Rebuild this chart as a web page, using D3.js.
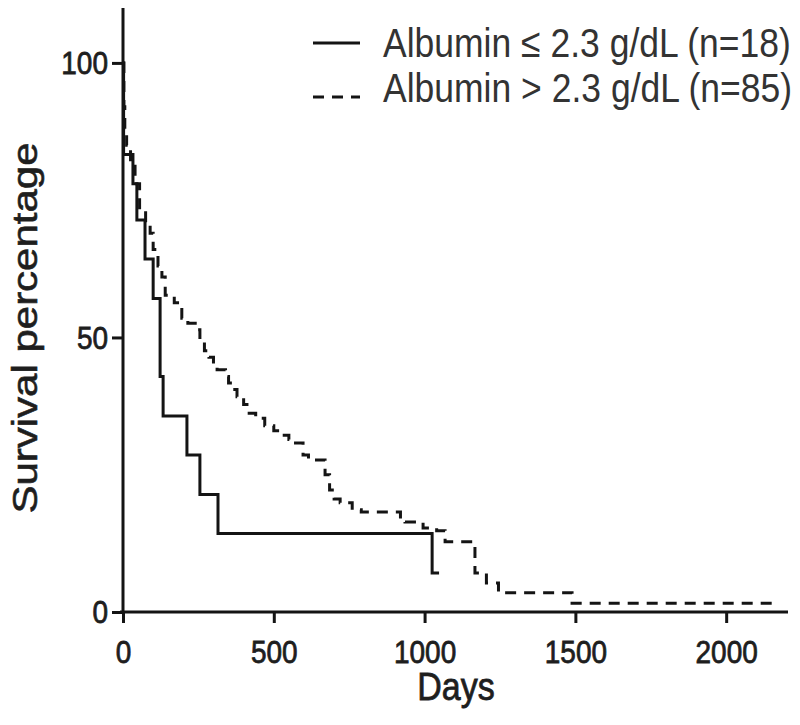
<!DOCTYPE html>
<html>
<head>
<meta charset="utf-8">
<script src="https://cdn.jsdelivr.net/npm/d3@7"></script>
<style>
  body { margin: 0; background: #fff; }
  svg text { font-family: "Liberation Sans", Arial, sans-serif; }
</style>
</head>
<body>
<div id="chart"></div>
<script>
// Kaplan-Meier style survival steps
let lowDays = [0, 2, 33, 46, 73, 100, 123, 133, 212, 255, 315, 1025, 1048];
let lowSurv = [100, 83.3, 78, 71.4, 64.3, 57.1, 42.9, 35.7, 28.6, 21.4, 14.3, 7.1, 7.1];

let highDays = [0, 3, 6, 12, 25, 40, 55, 75, 90, 100, 116, 129, 140, 170, 195, 215, 245, 255, 270, 285, 300, 312,
    340, 350, 365, 378, 400, 411, 440, 470, 500, 527, 550, 564, 597, 615, 670, 685, 700, 720, 760, 790, 920, 935,
    995, 1040, 1068, 1167, 1205, 1245, 1489, 2166];
let highSurv = [100, 92, 88, 85, 82, 78, 73, 71, 69, 66, 63, 61, 57.7, 56.3, 53.5, 52.6, 51.4, 49.5, 47.6, 46.4, 45.2, 44.1,
    42.9, 41.7, 40.5, 39.2, 37.8, 36.2, 35.3, 33.9, 33, 32.2, 31.4, 30.8, 28.6, 27.7, 25, 22.2, 20.6, 19.9, 18.6, 18.2, 16.9, 16.4,
    15.3, 14.8, 12.8, 7.1, 5.3, 3.5, 1.6, 1.6];

let xTicks = [0, 500, 1000, 1500, 2000];
let yTicks = [0, 50, 100];
let legendLabels = ["Albumin \u2264 2.3 g/dL (n=18)", "Albumin > 2.3 g/dL (n=85)"];

let width = 800, height = 725;
let ink = "#141414";
let stretch = 1.15; // the source picture is a bit taller than wide

let svg = d3.select("#chart").append("svg")
    .attr("width", width)
    .attr("height", height);

let x = d3.scaleLinear().domain([0, 2205]).range([123, 788]);
let y = d3.scaleLinear().domain([0, 110]).range([612, 8]);

// axes
let xAxis = d3.axisBottom(x).tickValues(xTicks).tickFormat(d3.format("d")).tickSize(11).tickSizeOuter(0);
let yAxis = d3.axisLeft(y).tickValues(yTicks).tickFormat(d3.format("d")).tickSize(11).tickSizeOuter(0);

let gx = svg.append("g")
    .attr("transform", "translate(0," + y(0) + ")")
    .call(xAxis);
let gy = svg.append("g")
    .attr("transform", "translate(" + x(0) + ",0)")
    .call(yAxis);

[gx, gy].forEach(function(g) {
    g.select(".domain").attr("stroke", ink).attr("stroke-width", 3);
    g.selectAll(".tick line").attr("stroke", ink).attr("stroke-width", 3);
    g.selectAll(".tick text")
        .attr("fill", "#1e1e1e")
        .attr("stroke", "#1e1e1e")
        .attr("stroke-width", 0.7)
        .style("font-size", "28px");
});
gx.select(".domain").attr("d", "M" + (x(0) - 3) + ",0H" + x.range()[1]);
gy.select(".domain").attr("d", "M0," + y.range()[1] + "V" + (y(0) + 1.5));

gx.selectAll(".tick text")
    .attr("dy", null)
    .attr("y", 51 / stretch)
    .attr("transform", "scale(1," + stretch + ")");
gy.selectAll(".tick text")
    .attr("x", -15)
    .attr("dy", "0.34em")
    .attr("transform", "scale(1," + stretch + ")");

// axis titles
svg.append("text")
    .attr("transform", "translate(" + 456 + "," + 700 + ") scale(1," + stretch + ")")
    .attr("text-anchor", "middle")
    .attr("fill", "#1e1e1e")
    .attr("stroke", "#1e1e1e")
    .attr("stroke-width", 0.7)
    .style("font-size", "34px")
    .text("Days");

svg.append("text")
    .attr("transform", "translate(" + 37 + "," + 328 + ") rotate(-90) scale(" + 1.2 + ",1)")
    .attr("text-anchor", "middle")
    .attr("fill", "#1e1e1e")
    .attr("stroke", "#1e1e1e")
    .attr("stroke-width", 0.6)
    .style("font-size", "35px")
    .text("Survival percentage");

// curves
let line = d3.line()
    .x(d => x(d[0]))
    .y(d => y(d[1]))
    .curve(d3.curveStepAfter);

svg.append("path")
    .datum(d3.zip(highDays, highSurv))
    .attr("d", line)
    .attr("fill", "none")
    .attr("stroke", ink)
    .attr("stroke-width", 3)
    .attr("stroke-dasharray", "11,8");

svg.append("path")
    .datum(d3.zip(lowDays, lowSurv))
    .attr("d", line)
    .attr("fill", "none")
    .attr("stroke", ink)
    .attr("stroke-width", 3);

// legend
let legend = svg.append("g");
let rows = [
    {label: legendLabels[0], dash: null, ly: 43, ty: 57},
    {label: legendLabels[1], dash: "11,8", ly: 97, ty: 102}
];
rows.forEach(function(r) {
    legend.append("line")
        .attr("x1", 313).attr("x2", 360)
        .attr("y1", r.ly).attr("y2", r.ly)
        .attr("stroke", ink)
        .attr("stroke-width", 3)
        .attr("stroke-dasharray", r.dash);
    legend.append("text")
        .attr("transform", "translate(383," + r.ty + ") scale(1," + stretch + ")")
        .attr("fill", "#333")
        .style("font-size", "35.5px")
        .text(r.label);
});
</script>
</body>
</html>
